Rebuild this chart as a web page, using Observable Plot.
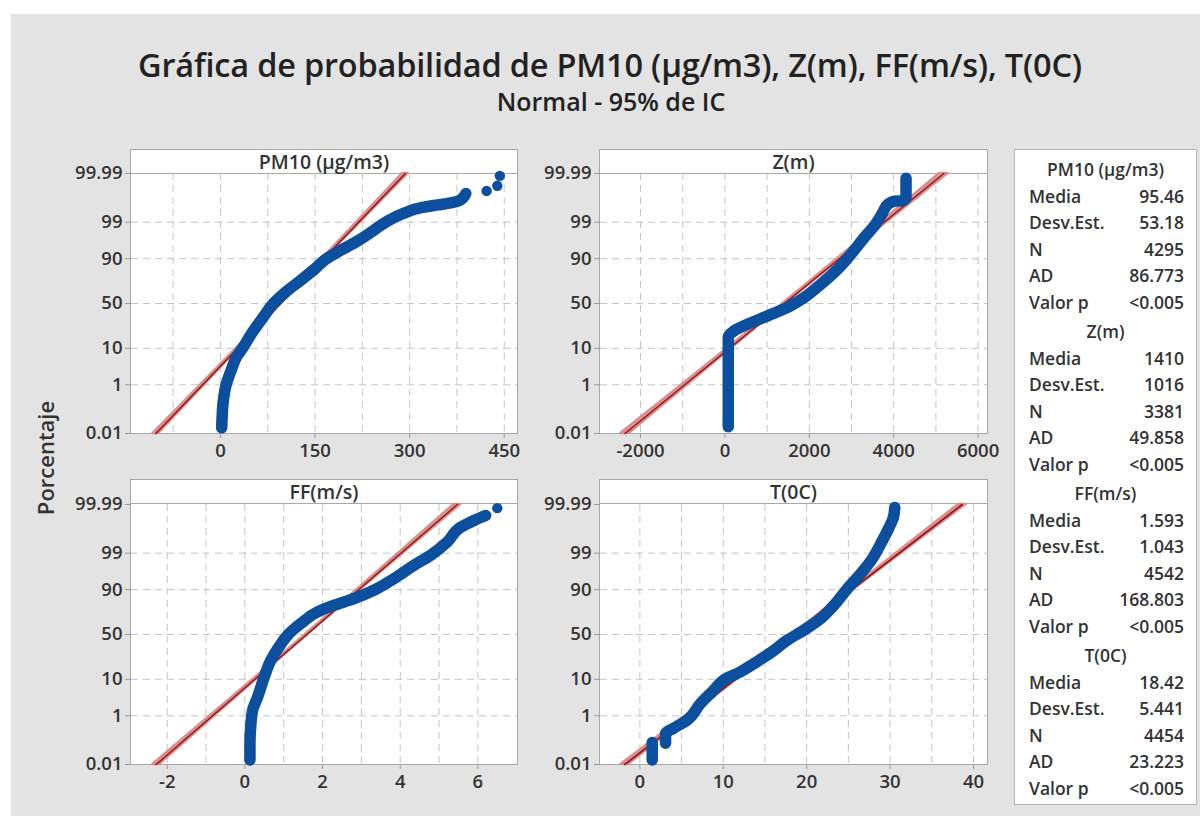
<!DOCTYPE html>
<html><head><meta charset="utf-8">
<script src="https://cdn.jsdelivr.net/npm/d3@7"></script>
<script src="https://cdn.jsdelivr.net/npm/@observablehq/plot@0.6"></script>
<style>
body{margin:0;background:#fff;font-family:"Open Sans",sans-serif;color:#222;}
#bg{position:absolute;left:11px;top:14px;width:1189px;height:802px;background:#e3e3e3;}
.abs{position:absolute;}
#title{left:0;width:1220px;top:42px;text-align:center;font-size:32.5px;font-weight:600;letter-spacing:-0.2px;}
#subtitle{left:0;width:1222px;top:84px;text-align:center;font-size:25px;font-weight:600;}
#ylab{left:45px;top:458px;transform:translate(-50%,-50%) rotate(-90deg);font-size:22px;font-weight:600;white-space:nowrap;color:#333;}
.pframe{background:#fff;border:1.5px solid #a8a8a8;box-sizing:border-box;}
.phead{text-align:center;font-size:19.5px;font-weight:600;line-height:23px;border-bottom:1.5px solid #a8a8a8;box-sizing:border-box;height:24px;color:#333;}
.psvg{position:absolute;}
#legend{left:1014px;top:149px;width:183px;height:656px;background:#fff;border:1.5px solid #b5b5b5;box-sizing:border-box;padding-top:6px;font-size:17.5px;font-weight:600;color:#333;}
.sec{margin-bottom:3px;}
.lh{height:26.5px;line-height:26.5px;text-align:center;}
.lr{height:26.5px;line-height:26.5px;display:flex;justify-content:space-between;padding:0 12px 0 14px;}
</style></head>
<body>
<div id="bg"></div>
<div id="title" class="abs">Gráfica de probabilidad de PM10 (µg/m3), Z(m), FF(m/s), T(0C)</div>
<div id="subtitle" class="abs">Normal - 95% de IC</div>
<div id="ylab" class="abs">Porcentaje</div>
<div id="panels"></div>
<div id="legend" class="abs"></div>
<script>
// ---------- data ----------
const panelNames = ["PM10 (µg/m3)", "Z(m)", "FF(m/s)", "T(0C)"];
const means = [95.46, 1410, 1.593, 18.42];
const stdevs = [53.18, 1016, 1.043, 5.441];
const counts = [4295, 3381, 4542, 4454];
const meanText = ["95.46", "1410", "1.593", "18.42"];
const sdText = ["53.18", "1016", "1.043", "5.441"];
const adText = ["86.773", "49.858", "168.803", "23.223"];
const pText = ["<0.005", "<0.005", "<0.005", "<0.005"];
const legendLabels = ["Media", "Desv.Est.", "N", "AD", "Valor p"];

const yTickPercents = [0.01, 1, 10, 50, 90, 99, 99.99];
const yTickLabels = ["0.01", "1", "10", "50", "90", "99", "99.99"];
const yGridPercents = [1, 10, 50, 90, 99];

const xDomains = [[-141, 471], [-2949, 6223], [-2.92, 7.02], [-4.72, 41.68]];
const xTicks = [[0, 150, 300, 450], [-2000, 0, 2000, 4000, 6000], [-2, 0, 2, 4, 6], [0, 10, 20, 30, 40]];
const xGrids = [
  [-75, 0, 75, 150, 225, 300, 375, 450],
  [-2000, -1000, 0, 1000, 2000, 3000, 4000, 5000, 6000],
  [-2, -1, 0, 1, 2, 3, 4, 5, 6],
  [0, 5, 10, 15, 20, 25, 30, 35, 40]
];

// PM10
const pm10Values   = [2, 2.5, 4, 9, 17, 26, 35, 50, 68, 84, 102, 128, 150, 168, 190, 214, 240, 262, 290, 320, 345, 365, 379, 389];
const pm10Percents = [0.019, 0.045, 0.2, 1, 2.8, 6.5, 10, 20, 35, 50, 62, 75, 84, 90, 93.5, 96, 98, 99, 99.5, 99.7, 99.76, 99.8, 99.84, 99.917];
const pm10TailValues   = [422, 439, 443];
const pm10TailPercents = [99.936, 99.962, 99.987];
// Z
const zValues   = [79, 79, 79, 79, 221, 538, 1012, 1486, 1881, 2277, 2672, 2988, 3304, 3541, 3739, 3858, 4016, 4213, 4292, 4292, 4292];
const zPercents = [0.021, 0.056, 1, 16.6, 21.8, 27.7, 36.2, 45.5, 56.8, 71, 83.7, 92.1, 97.05, 98.68, 99.53, 99.77, 99.83, 99.835, 99.878, 99.955, 99.983];
// FF
const ffValues   = [0.13, 0.13, 0.15, 0.2, 0.33, 0.5, 0.67, 0.88, 1.1, 1.44, 1.87, 2.3, 2.81, 3.32, 3.84, 4.35, 4.78, 5.21, 5.55, 5.9, 6.2];
const ffPercents = [0.0166, 0.1, 0.42, 1.54, 3.75, 11.3, 23.2, 36.3, 49.2, 62.3, 74.1, 79.9, 84.8, 89.7, 94.5, 97.6, 98.82, 99.59, 99.89, 99.945, 99.967];
const ffTailValues   = [6.5];
const ffTailPercents = [99.985];
// T
const tLowValues   = [1.48, 1.48, 1.48];
const tLowPercents = [0.0166, 0.05, 0.1];
const tValues   = [3.08, 3.08, 4.08, 5.68, 7.28, 8.88, 10.08, 12.08, 13.68, 15.68, 17.68, 19.68, 21.68, 23.28, 24.88, 26.48, 27.88, 29.08, 29.88, 30.4, 30.56];
const tPercents = [0.094, 0.23, 0.37, 0.72, 2.44, 5.6, 9.7, 14.3, 20.3, 30, 43.6, 54.9, 67.6, 79.9, 90.5, 95.9, 98.5, 99.64, 99.89, 99.96, 99.986];

// ---------- helpers ----------
function probit(p) {
  const a=[-3.969683028665376e+01,2.209460984245205e+02,-2.759285104469687e+02,1.383577518672690e+02,-3.066479806614716e+01,2.506628277459239e+00];
  const b=[-5.447609879822406e+01,1.615858368580409e+02,-1.556989798598866e+02,6.680131188771720e+01,-1.328068155288572e+01];
  const c=[-7.784894002430293e-03,-3.223964580411365e-01,-2.400758277161838e+00,-2.549671324505306e+00,4.374664141464968e+00,2.938163982698783e+00];
  const d=[7.784695709041462e-03,3.224671290700398e-01,2.445134137142996e+00,3.754408661907416e+00];
  const pl=0.02425, ph=1-pl; let q, r;
  if (p < pl) { q=Math.sqrt(-2*Math.log(p)); return (((((c[0]*q+c[1])*q+c[2])*q+c[3])*q+c[4])*q+c[5])/((((d[0]*q+d[1])*q+d[2])*q+d[3])*q+1); }
  if (p <= ph) { q=p-0.5; r=q*q; return (((((a[0]*r+a[1])*r+a[2])*r+a[3])*r+a[4])*r+a[5])*q/(((((b[0]*r+b[1])*r+b[2])*r+b[3])*r+b[4])*r+1); }
  q=Math.sqrt(-2*Math.log(1-p)); return -(((((c[0]*q+c[1])*q+c[2])*q+c[3])*q+c[4])*q+c[5])/((((d[0]*q+d[1])*q+d[2])*q+d[3])*q+1);
}
const zOf = pct => probit(pct / 100);
const pts = (vals, pcts) => vals.map((v, k) => ({v, z: zOf(pcts[k])}));

const curves = [
  [pts(pm10Values, pm10Percents)],
  [pts(zValues, zPercents)],
  [pts(ffValues, ffPercents)],
  [pts(tLowValues, tLowPercents), pts(tValues, tPercents)]
];
const tails = [pts(pm10TailValues, pm10TailPercents), [], pts(ffTailValues, ffTailPercents), []];

const zMin = zOf(0.01), zMax = zOf(99.99);
const labelMap = new Map(yTickPercents.map((p, k) => [zOf(p), yTickLabels[k]]));

function fitBand(i) {
  const n = counts[i], m = means[i], s = stdevs[i];
  return d3.range(0, 41).map(k => {
    const z = zMin + (zMax - zMin) * k / 40;
    const se = s * Math.sqrt(1 / n + z * z / (2 * (n - 1)));
    return {z, mid: m + s * z, lo: m + s * z - 1.96 * se, hi: m + s * z + 1.96 * se};
  });
}

// ---------- layout ----------
const frames = [
  {left: 131, right: 517, head: 149, top: 173, bottom: 433},
  {left: 600, right: 987, head: 149, top: 173, bottom: 433},
  {left: 131, right: 517, head: 479, top: 504, bottom: 764},
  {left: 600, right: 987, head: 479, top: 504, bottom: 764}
];
const BLUE = "#0b4f9e";
const host = document.getElementById("panels");

frames.forEach((f, i) => {
  const box = document.createElement("div");
  box.className = "abs pframe";
  Object.assign(box.style, {left: (f.left - 1) + "px", top: f.head + "px", width: (f.right - f.left + 2) + "px", height: (f.bottom - f.head + 1) + "px"});
  const head = document.createElement("div");
  head.className = "phead";
  head.textContent = panelNames[i];
  box.appendChild(head);
  host.appendChild(box);

  const mL = 80, mT = 30, mR = 16, mB = 40;
  const pw = f.right - f.left, ph = f.bottom - f.top;
  const band = fitBand(i);
  const chart = Plot.plot({
    width: pw + mL + mR, height: ph + mT + mB,
    marginLeft: mL, marginRight: mR, marginTop: mT, marginBottom: mB,
    style: {background: "transparent", fontFamily: "Open Sans", fontSize: "18.5px", fontWeight: 600, color: "#333", overflow: "visible"},
    x: {domain: xDomains[i], label: null},
    y: {domain: [zMin, zMax], label: null},
    marks: [
      Plot.gridX(xGrids[i], {stroke: "#c4c4c4", strokeOpacity: 1, strokeDasharray: "7,5"}),
      Plot.gridY(yGridPercents.map(zOf), {stroke: "#c4c4c4", strokeOpacity: 1, strokeDasharray: "7,5"}),
      Plot.areaX(band, {y: "z", x1: "lo", x2: "hi", fill: "#d98e8e", fillOpacity: 0.9, stroke: "#d98e8e", strokeWidth: 2.5}),
      Plot.lineX(band, {y: "z", x: "mid", stroke: "#9a1515", strokeWidth: 1.6}),
      ...curves[i].map(c => Plot.line(c, {x: "v", y: "z", stroke: BLUE, strokeWidth: 11.5, strokeLinecap: "round", strokeLinejoin: "round", curve: "monotone-y"})),
      Plot.dot(curves[i].flat().concat(tails[i]), {x: "v", y: "z", r: 5.2, fill: BLUE}),
      Plot.axisX({ticks: xTicks[i], tickFormat: d => String(d), tickSize: 5, tickPadding: 5, stroke: "#999", fill: "#333", label: null}),
      Plot.axisY({ticks: yTickPercents.map(zOf), tickFormat: d => labelMap.get(d), tickSize: 6, tickPadding: 3, stroke: "#999", fill: "#333", label: null})
    ]
  });
  chart.classList.add("psvg");
  chart.style.left = (f.left - mL) + "px";
  chart.style.top = (f.top - mT) + "px";
  host.appendChild(chart);
});

// ---------- legend ----------
const legend = document.getElementById("legend");
panelNames.forEach((name, i) => {
  const sec = document.createElement("div");
  sec.className = "sec";
  const h = document.createElement("div");
  h.className = "lh"; h.textContent = name;
  sec.appendChild(h);
  const vals = [meanText[i], sdText[i], String(counts[i]), adText[i], pText[i]];
  legendLabels.forEach((lab, k) => {
    const r = document.createElement("div");
    r.className = "lr";
    r.innerHTML = `<span>${lab}</span><span>${vals[k].replace("<", "&lt;")}</span>`;
    sec.appendChild(r);
  });
  legend.appendChild(sec);
});
</script>
</body></html>
